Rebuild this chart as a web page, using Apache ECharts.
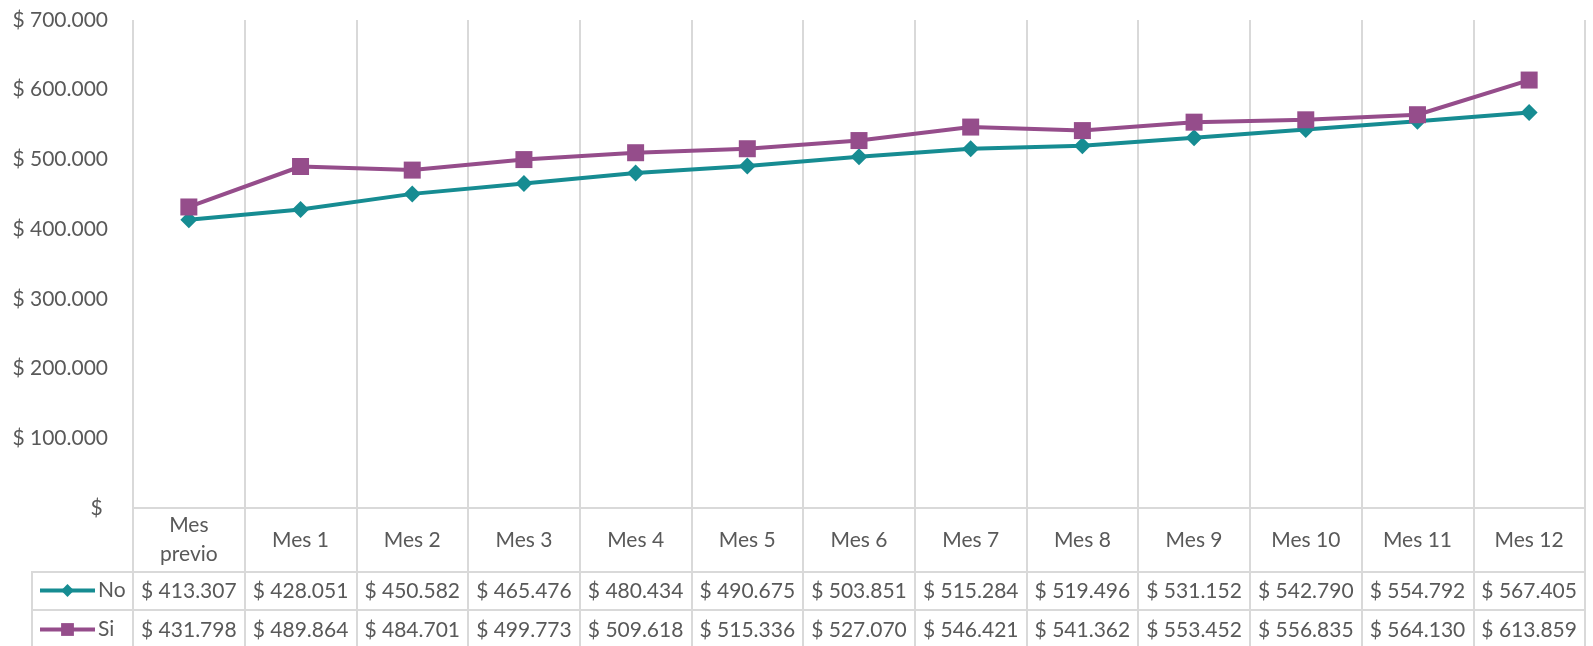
<!DOCTYPE html>
<html>
<head>
<meta charset="utf-8">
<script src="https://cdn.jsdelivr.net/npm/echarts@6/dist/echarts.min.js"></script>
<style>html,body{margin:0;padding:0;background:#fff}#c{width:1593px;height:646px}</style>
</head>
<body>
<div id="c"></div>
<script>
var categories = ['Mes\nprevio','Mes 1','Mes 2','Mes 3','Mes 4','Mes 5','Mes 6','Mes 7','Mes 8','Mes 9','Mes 10','Mes 11','Mes 12'];
var noValues = [413307,428051,450582,465476,480434,490675,503851,515284,519496,531152,542790,554792,567405];
var siValues = [431798,489864,484701,499773,509618,515336,527070,546421,541362,553452,556835,564130,613859];
var seriesNames = ['No','Si'];

function fmt(v){
  if (v === 0) return '$ ';
  return '$ ' + String(Math.round(v)).replace(/\B(?=(\d{3})+(?!\d))/g, '.');
}
var FONT = 'Lato, "Liberation Sans", sans-serif';
var TXT = '#595959';
var GRID = '#D9D9D9';
var TEAL = '#168C92';
var PURPLE = '#954D8B';

function legendFor(name, top){
  return {
    orient: 'vertical', left: 38, top: top, itemWidth: 55, itemHeight: 16, itemGap: 0,
    padding: 0,
    lineStyle: {width: 4},
    textStyle: {fontSize: 21, color: TXT, fontFamily: FONT, padding: [0,0,0,-2]},
    data: [name]
  };
}

var chart = echarts.init(document.getElementById('c'), null, {renderer:'canvas'});
chart.setOption({
  animation: false,
  textStyle: {fontFamily: FONT},
  grid: {left: 133, right: 8, top: 20, bottom: 138, containLabel: false},
  legend: [legendFor(seriesNames[0], 580), legendFor(seriesNames[1], 619)],
  xAxis: [
    {
      type: 'category', data: categories, boundaryGap: true, position: 'bottom',
      axisLine: {show: true, lineStyle: {color: GRID, width: 2}},
      axisTick: {show: true, length: 138, interval: 0, lineStyle: {color: GRID, width: 2}},
      splitLine: {show: true, interval: 0, lineStyle: {color: GRID, width: 2}},
      axisLabel: {interval: 0, fontSize: 21, color: TXT, margin: 32, verticalAlign: 'middle', lineHeight: 29, fontFamily: FONT}
    },
    {
      type: 'category', data: categories, boundaryGap: true, position: 'bottom', offset: 64,
      axisLine: {show: true, lineStyle: {color: GRID, width: 2}},
      axisTick: {show: false}, splitLine: {show: false},
      axisLabel: {interval: 0, fontSize: 21, color: TXT, margin: 19, verticalAlign: 'middle', fontFamily: FONT,
        formatter: function(v, i){ return fmt(noValues[i]); }}
    },
    {
      type: 'category', data: categories, boundaryGap: true, position: 'bottom', offset: 102,
      axisLine: {show: true, lineStyle: {color: GRID, width: 2}},
      axisTick: {show: false}, splitLine: {show: false},
      axisLabel: {interval: 0, fontSize: 21, color: TXT, margin: 20, verticalAlign: 'middle', fontFamily: FONT,
        formatter: function(v, i){ return fmt(siValues[i]); }}
    }
  ],
  yAxis: {
    type: 'value', min: 0, max: 700000, interval: 100000,
    axisLine: {show: false}, axisTick: {show: false}, splitLine: {show: false},
    axisLabel: {fontSize: 21, color: TXT, margin: 25, fontFamily: FONT, formatter: function(v){ return fmt(v); }}
  },
  graphic: [
    {type: 'line', shape: {x1: 32, y1: 572, x2: 133, y2: 572}, style: {stroke: GRID, lineWidth: 2}},
    {type: 'line', shape: {x1: 32, y1: 610, x2: 133, y2: 610}, style: {stroke: GRID, lineWidth: 2}},
    {type: 'line', shape: {x1: 32, y1: 571, x2: 32, y2: 646}, style: {stroke: GRID, lineWidth: 2}}
  ],
  series: [
    {
      name: seriesNames[0], type: 'line', data: noValues, xAxisIndex: 0,
      symbol: 'diamond', symbolSize: 17, showAllSymbol: true,
      lineStyle: {color: TEAL, width: 4}, itemStyle: {color: TEAL}, z: 3
    },
    {
      name: seriesNames[1], type: 'line', data: siValues, xAxisIndex: 0,
      symbol: 'rect', symbolSize: 17, showAllSymbol: true,
      lineStyle: {color: PURPLE, width: 4}, itemStyle: {color: PURPLE}, z: 4
    }
  ]
});
</script>
</body>
</html>
